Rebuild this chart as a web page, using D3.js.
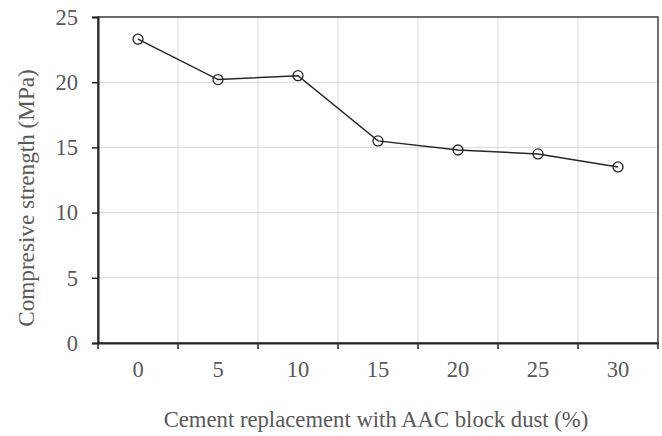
<!DOCTYPE html>
<html>
<head>
<meta charset="utf-8">
<script src="https://cdn.jsdelivr.net/npm/d3@7"></script>
<style>
  body { margin: 0; background: #fff; }
</style>
</head>
<body>
<div id="chart"></div>
<script>
// replacement levels (%) and strengths (MPa)
const categories = ['0', '5', '10', '15', '20', '25', '30'];
const strength = [23.3, 20.2, 20.5, 15.5, 14.8, 14.5, 13.5];
const yTicks = [0, 5, 10, 15, 20, 25];

const FONT = "'Liberation Serif', 'Times New Roman', Times, serif";
const width = 662, height = 436;
const margins = { top: 17, right: 4, bottom: 93, left: 98 };
const w = width - margins.left - margins.right;
const h = height - margins.top - margins.bottom;

const svg = d3.select('#chart').append('svg').attr('width', width).attr('height', height);
const g = svg.append('g').attr('transform', 'translate(' + margins.left + ',' + margins.top + ')');

const x = d3.scaleBand().domain(categories).range([0, w]);
const y = d3.scaleLinear().domain([0, 25]).range([h, 0]);

// grid
g.append('g').selectAll('line').data(yTicks).join('line')
    .attr('x1', 0).attr('x2', w)
    .attr('y1', d => y(d)).attr('y2', d => y(d))
    .attr('stroke', '#d9d9d9').attr('stroke-width', 1);
g.append('g').selectAll('line').data(categories.slice(1)).join('line')
    .attr('x1', d => x(d)).attr('x2', d => x(d))
    .attr('y1', 0).attr('y2', h)
    .attr('stroke', '#d9d9d9').attr('stroke-width', 1);

// frame
g.append('rect').attr('width', w).attr('height', h)
    .attr('fill', 'none').attr('stroke', '#404040').attr('stroke-width', 1.5);

// y axis
const yAxis = g.append('g').call(d3.axisLeft(y).tickValues(yTicks).tickSize(6).tickPadding(14));
yAxis.attr('font-family', FONT).attr('font-size', 22.5);
yAxis.select('.domain').attr('stroke', '#262626').attr('stroke-width', 2);
yAxis.selectAll('.tick line').attr('stroke', '#262626').attr('stroke-width', 1.5);
yAxis.selectAll('text').attr('fill', '#595959');

// x axis: ticks on band boundaries
const xAxis = g.append('g').attr('transform', 'translate(0,' + h + ')')
    .call(d3.axisBottom(x).tickSize(0));
xAxis.attr('font-family', FONT).attr('font-size', 22.5);
xAxis.select('.domain').attr('stroke', '#262626').attr('stroke-width', 2);
xAxis.selectAll('text').attr('fill', '#595959').attr('y', 34).attr('dy', null);
xAxis.append('g').selectAll('line').data(categories.concat(['end'])).join('line')
    .attr('x1', (d, i) => i * x.step()).attr('x2', (d, i) => i * x.step())
    .attr('y1', 0).attr('y2', 6)
    .attr('stroke', '#262626').attr('stroke-width', 1.5);

// series
const line = d3.line().x((d, i) => x(categories[i]) + x.bandwidth() / 2).y(d => y(d));
g.append('path').datum(strength)
    .attr('fill', 'none').attr('stroke', '#262626').attr('stroke-width', 1.5)
    .attr('d', line);
g.append('g').selectAll('circle').data(strength).join('circle')
    .attr('cx', (d, i) => x(categories[i]) + x.bandwidth() / 2)
    .attr('cy', d => y(d))
    .attr('r', 5)
    .attr('fill', 'none').attr('stroke', '#262626').attr('stroke-width', 1.3);

// titles
svg.append('text')
    .attr('x', 376).attr('y', 427)
    .attr('text-anchor', 'middle').attr('font-size', 22.7)
    .attr('font-family', FONT).attr('fill', '#595959')
    .text('Cement replacement with AAC block dust (%)');
svg.append('text')
    .attr('transform', 'translate(34,198) rotate(-90)')
    .attr('text-anchor', 'middle').attr('font-size', 23.2)
    .attr('font-family', FONT).attr('fill', '#595959')
    .text('Compresive strength (MPa)');
</script>
</body>
</html>
